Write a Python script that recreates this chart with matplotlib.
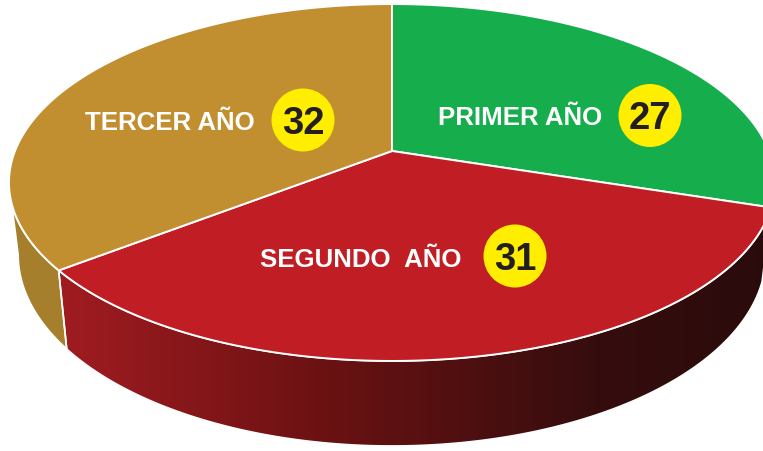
import numpy as np
import matplotlib
matplotlib.use('Agg')
import matplotlib.pyplot as plt
from matplotlib.patches import Polygon, Circle
from matplotlib.colors import LinearSegmentedColormap

# ---- data ----
categories = ['PRIMER AÑO', 'SEGUNDO  AÑO', 'TERCER AÑO']
values = [27, 31, 32]
top_colors = ['#16ad4c', '#c01e24', '#c18f30']
side_colors = ['#0f7a35', '#8a1519', '#a67f2d']

# ---- geometry of the projected (perspective) disk, in pixels ----
CX, CY = 392.0, 152.0
A, B, K = 377.0, 172.9, 0.1765
DEPTH, SHRINK = 70.0, 0.976


def top_pt(phi_deg):
    p = np.radians(phi_deg)
    u, v = np.cos(p), np.sin(p)
    w = 1 + K * v
    return CX + A * u / w, CY - B * v / w


def bot_pt(phi_deg):
    x, y = top_pt(phi_deg)
    w = 1 + K * np.sin(np.radians(phi_deg))
    return CX + (x - CX) * SHRINK, y + DEPTH / w


fig = plt.figure(figsize=(7.63, 4.52), dpi=100)
ax = fig.add_axes([0, 0, 1, 1])
ax.axis('off')

total = float(sum(values))
bounds = 90 - np.concatenate([[0], np.cumsum(values)]) / total * 360.0
front_lo = -180 + np.degrees(np.arcsin(K))
front_hi = -np.degrees(np.arcsin(K))

grad_cmap = LinearSegmentedColormap.from_list(
    'side', [(0, '#a01c21'), (0.35, '#6e1213'), (0.75, '#360d0e'), (1, '#2a0b0c')])

# sides
for i in range(len(values)):
    a1, a2 = bounds[i], bounds[i + 1]
    for shift in (-360, 0, 360):
        lo = max(a2 + shift, front_lo)
        hi = min(a1 + shift, front_hi)
        if hi <= lo:
            continue
        ph = np.linspace(hi, lo, 200)
        top = np.array([top_pt(p) for p in ph])
        bot = np.array([bot_pt(p) for p in ph[::-1]])
        pts = np.vstack([top, bot])
        if i == 1:
            patch = Polygon(pts, closed=True, facecolor='none', edgecolor='white',
                            lw=1.2, zorder=2)
            ax.add_patch(patch)
            x0, x1 = pts[:, 0].min(), pts[:, 0].max()
            y0, y1 = pts[:, 1].min(), pts[:, 1].max()
            grad = np.linspace(0, 1, 256)[None, :]
            im = ax.imshow(grad, extent=(x0, x1, y1, y0), cmap=grad_cmap,
                           aspect='auto', zorder=1, interpolation='bilinear')
            im.set_clip_path(patch)
        else:
            ax.add_patch(Polygon(pts, closed=True, facecolor=side_colors[i],
                                 edgecolor='white', lw=1.2, zorder=1))

# top faces
for i in range(len(values)):
    ph = np.linspace(bounds[i], bounds[i + 1], 300)
    arc = np.array([top_pt(p) for p in ph])
    pts = np.vstack([[CX, CY], arc])
    ax.add_patch(Polygon(pts, closed=True, facecolor=top_colors[i],
                         edgecolor='white', lw=1.4, zorder=3))

# labels (layout positions)
label_pos = [(520, 125), (360.5, 267), (170, 130)]
badge_pos = [(650, 116.5), (515, 257), (303, 121)]
for i in range(len(values)):
    lx, ly = label_pos[i]
    ax.text(lx, ly, categories[i], ha='center', va='baseline', color='white',
            fontsize=18.6, fontweight='bold', family=['Liberation Sans', 'DejaVu Sans'],
            zorder=5)
    bx, by = badge_pos[i]
    ax.add_patch(Circle((bx, by), 31.5, facecolor='#ffee00', edgecolor='none', zorder=5))
    ax.text(bx, by + 13, str(values[i]), ha='center', va='baseline', color='#231f20',
            fontsize=27.5, fontweight='bold', family=['Liberation Sans', 'DejaVu Sans'],
            zorder=6)

ax.set_xlim(0, 763)
ax.set_ylim(452, 0)
ax.set_aspect('auto')
fig.savefig('out.png', dpi=100, facecolor='white')
